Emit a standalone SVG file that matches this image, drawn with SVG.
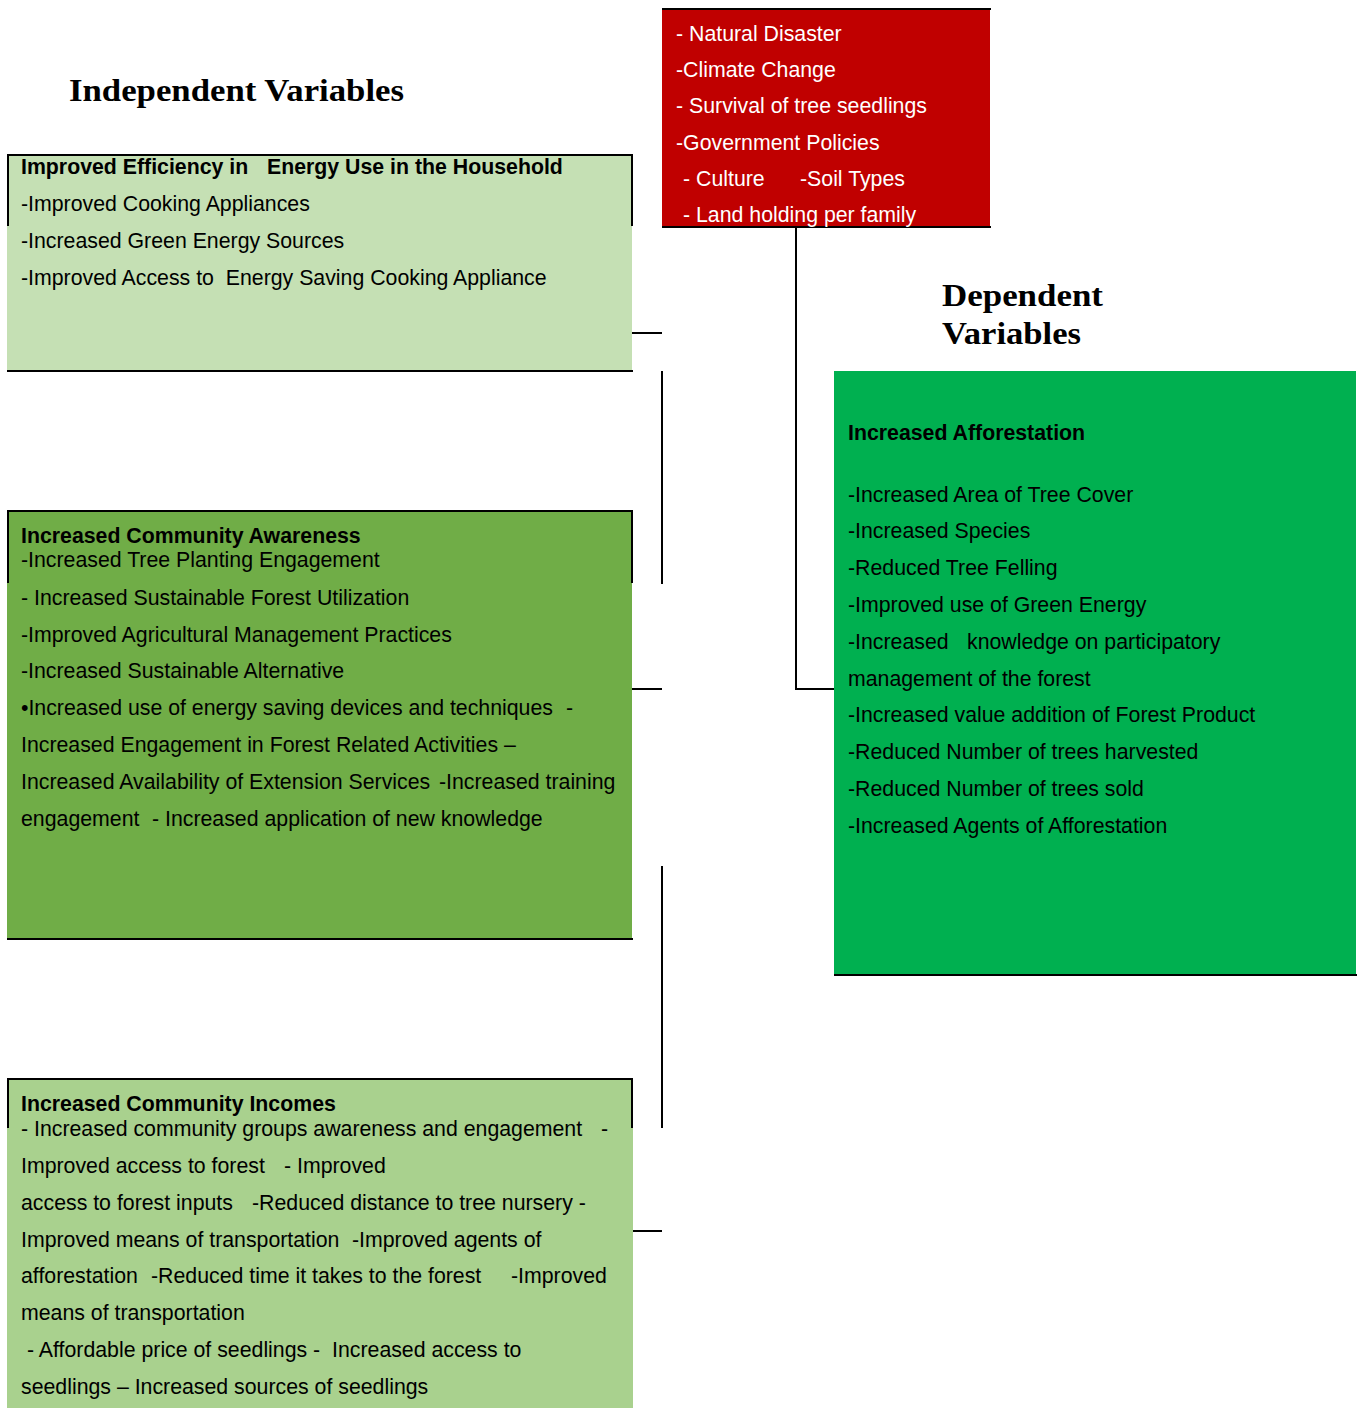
<svg xmlns="http://www.w3.org/2000/svg" width="1357" height="1408" viewBox="0 0 1357 1408">
<style>
.t{font-family:"Liberation Sans",Arial,sans-serif;font-size:21.3px;fill:#000;white-space:pre}
.b{font-weight:bold}
.w{fill:#fff}
.title{font-family:"Liberation Serif","Times New Roman",serif;font-size:32px;font-weight:bold;fill:#000}
.ln{stroke:#000;stroke-width:2;fill:none}
</style>
<rect width="1357" height="1408" fill="#fff"/>
<g id="title-independent"><text class="title" x="69" y="101" textLength="335" lengthAdjust="spacingAndGlyphs">Independent Variables</text></g>
<g id="title-dependent">
<text class="title" x="942" y="306" textLength="161" lengthAdjust="spacingAndGlyphs">Dependent</text>
<text class="title" x="942" y="344" textLength="139" lengthAdjust="spacingAndGlyphs">Variables</text>
</g>

<g id="connectors">
<line class="ln" x1="632" y1="333" x2="662" y2="333"/>
<line class="ln" x1="662" y1="371" x2="662" y2="584"/>
<line class="ln" x1="632" y1="689" x2="662" y2="689"/>
<line class="ln" x1="662" y1="866" x2="662" y2="1128"/>
<line class="ln" x1="632" y1="1231" x2="662" y2="1231"/>
<polyline class="ln" points="796,227 796,689 834,689"/>
</g>

<g id="moderating">
<rect x="662" y="9" width="328" height="218" fill="#C00000"/>
<line class="ln" x1="662" y1="9" x2="991" y2="9"/>
<line class="ln" x1="662" y1="227" x2="991" y2="227"/>
<text class="t w" x="676" y="41">- Natural Disaster</text>
<text class="t w" x="676" y="77">-Climate Change</text>
<text class="t w" x="676" y="113">- Survival of tree seedlings</text>
<text class="t w" x="676" y="150">-Government Policies</text>
<text class="t w" x="683" y="186">- Culture</text>
<text class="t w" x="800" y="186">-Soil Types</text>
<text class="t w" x="683" y="222">- Land holding per family</text>
</g>

<g id="energy">
<rect x="7" y="155" width="625" height="216" fill="#C5E0B4"/>
<polyline class="ln" points="8,226 8,155 632,155 632,226"/>
<line class="ln" x1="7" y1="371" x2="633" y2="371"/>
<text class="t b" x="21" y="174">Improved Efficiency in</text>
<text class="t b" x="267" y="174">Energy Use in the Household</text>
<text class="t" x="21" y="211">-Improved Cooking Appliances</text>
<text class="t" x="21" y="248">-Increased Green Energy Sources</text>
<text class="t" x="21" y="285" xml:space="preserve">-Improved Access to  Energy Saving Cooking Appliance</text>
</g>

<g id="awareness">
<rect x="7" y="511" width="625" height="428" fill="#70AD47"/>
<polyline class="ln" points="8,583 8,511 632,511 632,583"/>
<line class="ln" x1="7" y1="939" x2="633" y2="939"/>
<text class="t b" x="21" y="543">Increased Community Awareness</text>
<text class="t" x="21" y="567">-Increased Tree Planting Engagement</text>
<text class="t" x="21" y="605">- Increased Sustainable Forest Utilization</text>
<text class="t" x="21" y="642">-Improved Agricultural Management Practices</text>
<text class="t" x="21" y="678">-Increased Sustainable Alternative</text>
<text class="t" x="21" y="715">•Increased use of energy saving devices and techniques</text>
<text class="t" x="566" y="715">-</text>
<text class="t" x="21" y="752">Increased Engagement in Forest Related Activities –</text>
<text class="t" x="21" y="789">Increased Availability of Extension Services</text>
<text class="t" x="439" y="789">-Increased training</text>
<text class="t" x="21" y="826">engagement</text>
<text class="t" x="152" y="826">- Increased application of new knowledge</text>
</g>

<g id="incomes">
<rect x="7" y="1079" width="626" height="329" fill="#A9D18E"/>
<polyline class="ln" points="8,1128 8,1079 632,1079 632,1128"/>
<text class="t b" x="21" y="1111">Increased Community Incomes</text>
<text class="t" x="21" y="1136">- Increased community groups awareness and engagement</text>
<text class="t" x="601" y="1136">-</text>
<text class="t" x="21" y="1173">Improved access to forest</text>
<text class="t" x="284" y="1173">- Improved</text>
<text class="t" x="21" y="1210">access to forest inputs</text>
<text class="t" x="252" y="1210">-Reduced distance to tree nursery -</text>
<text class="t" x="21" y="1247">Improved means of transportation</text>
<text class="t" x="352" y="1247">-Improved agents of</text>
<text class="t" x="21" y="1283">afforestation</text>
<text class="t" x="151" y="1283">-Reduced time it takes to the forest</text>
<text class="t" x="511" y="1283">-Improved</text>
<text class="t" x="21" y="1320">means of transportation</text>
<text class="t" x="27" y="1357" xml:space="preserve">- Affordable price of seedlings -  Increased access to</text>
<text class="t" x="21" y="1394">seedlings – Increased sources of seedlings</text>
</g>

<g id="afforestation">
<rect x="834" y="371" width="522" height="604" fill="#00B050"/>
<line class="ln" x1="834" y1="975" x2="1357" y2="975"/>
<text class="t b" x="848" y="440">Increased Afforestation</text>
<text class="t" x="848" y="502">-Increased Area of Tree Cover</text>
<text class="t" x="848" y="538">-Increased Species</text>
<text class="t" x="848" y="575">-Reduced Tree Felling</text>
<text class="t" x="848" y="612">-Improved use of Green Energy</text>
<text class="t" x="848" y="649">-Increased</text>
<text class="t" x="967" y="649">knowledge on participatory</text>
<text class="t" x="848" y="686">management of the forest</text>
<text class="t" x="848" y="722">-Increased value addition of Forest Product</text>
<text class="t" x="848" y="759">-Reduced Number of trees harvested</text>
<text class="t" x="848" y="796">-Reduced Number of trees sold</text>
<text class="t" x="848" y="833">-Increased Agents of Afforestation</text>
</g>
</svg>
